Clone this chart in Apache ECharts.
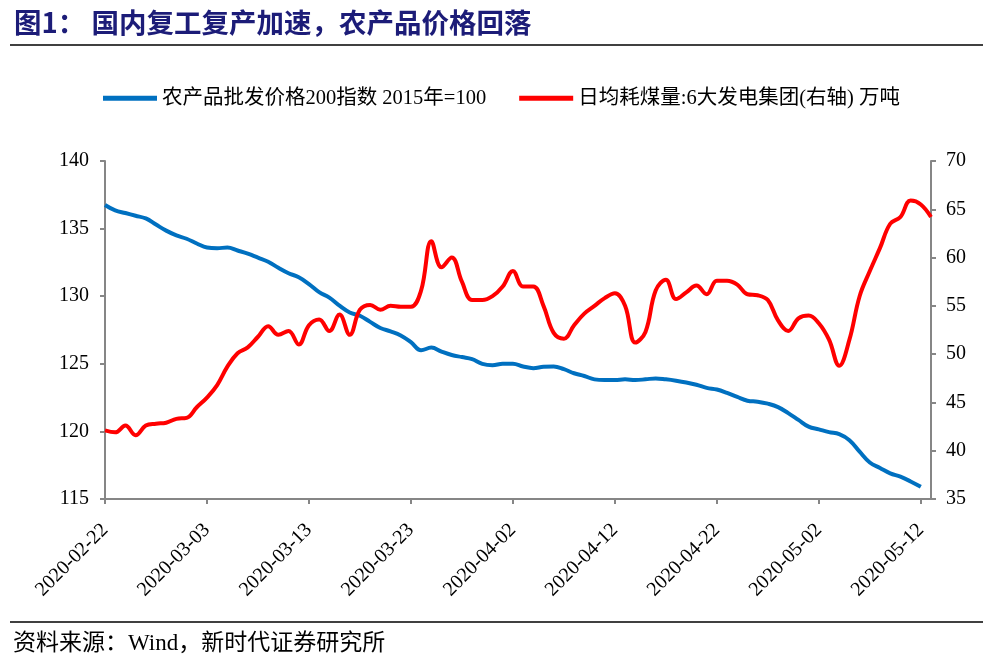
<!DOCTYPE html>
<html><head><meta charset="utf-8">
<script src="https://cdn.jsdelivr.net/npm/echarts@6/dist/echarts.min.js"></script>
<style>html,body{margin:0;padding:0;background:#fff;}#c{width:983px;height:662px;}</style>
</head><body><div id="c"></div>
<script>
var startDate = '2020-02-22';
var dayCount = 82;
var leftTicks = [115, 140, 5];
var rightTicks = [35, 70, 5];
var seriesNames = ['农产品批发价格200指数 2015年=100', '日均耗煤量:6大发电集团(右轴) 万吨'];
var agriIndex = [136.75,136.35,136.15,135.95,135.75,135.3,134.85,134.5,134.25,133.9,
133.6,133.55,133.6,133.38,133.15,132.85,132.55,132.1,131.7,131.4,
130.9,130.3,129.9,129.3,128.8,128.55,128.1,127.65,127.4,127.1,
126.6,126.0,126.2,125.9,125.65,125.5,125.35,125.0,124.9,125.0,
125.0,124.8,124.68,124.78,124.8,124.6,124.3,124.1,123.85,123.8,
123.8,123.85,123.8,123.85,123.92,123.85,123.75,123.62,123.45,123.22,
123.1,122.85,122.55,122.27,122.2,122.05,121.8,121.35,120.85,120.35,
120.15,119.95,119.8,119.35,118.5,117.7,117.3,116.9,116.65,116.3,
115.9];
var coalUse = [42.1,41.9,42.6,41.6,42.6,42.8,42.9,43.3,43.4,44.5,
45.5,46.8,48.7,50.1,50.7,51.8,52.9,52.0,52.4,51.0,
53.0,53.6,52.4,54.1,52.0,54.6,55.1,54.6,55.0,54.9,
54.9,56.6,61.7,59.0,60.0,57.5,55.6,55.6,56.0,57.0,
58.6,57.0,57.0,55.0,52.2,51.6,53.0,54.2,55.0,55.8,
56.3,55.0,51.2,52.3,56.6,57.7,55.7,56.4,57.1,56.2,
57.6,57.6,57.2,56.2,56.1,55.6,53.5,52.4,53.7,54.0,
53.2,51.5,48.8,51.5,56.0,58.6,61.0,63.5,64.2,65.9,
65.5,64.2];

var categories = [];
(function(){
  var d = new Date(startDate + 'T00:00:00Z');
  for (var i = 0; i < dayCount; i++) {
    var t = new Date(d.getTime() + i * 86400000);
    categories.push(t.toISOString().slice(0, 10));
  }
})();

var serif = '"Liberation Serif", "Times New Roman", "Noto Sans CJK SC", serif';
var chart = echarts.init(document.getElementById('c'), null, {renderer: 'canvas'});
var axisGray = '#868686';
chart.setOption({
  backgroundColor: '#fff',
  animation: false,
  graphic: [
    {type: 'text', left: 14, top: 9, style: {text: '图1： 国内复工复产加速，农产品价格回落', fill: '#1c1c78', font: 'bold 27.5px "Noto Sans CJK SC", serif'}},
    {type: 'line', shape: {x1: 10, y1: 45, x2: 983, y2: 45}, style: {stroke: '#000', lineWidth: 1.5}},
    {type: 'line', shape: {x1: 10, y1: 622, x2: 983, y2: 622}, style: {stroke: '#000', lineWidth: 1.5}},
    {type: 'text', left: 13, top: 632, style: {text: '资料来源：Wind，新时代证券研究所', fill: '#000', font: '23px "Liberation Serif", "Noto Sans CJK SC", serif'}}
  ],
  legend: {
    left: 103, top: 88, padding: 0,
    icon: 'rect', itemWidth: 54, itemHeight: 5, itemGap: 33,
    textStyle: {fontFamily: serif, fontSize: 20.5, color: '#000'},
    data: seriesNames
  },
  grid: {left: 105, right: 52, top: 161, bottom: 163, containLabel: false},
  xAxis: {
    type: 'category', data: categories, boundaryGap: false,
    axisLine: {lineStyle: {color: axisGray, width: 2}},
    axisTick: {show: true, interval: 9, length: 5, lineStyle: {color: axisGray, width: 2}},
    axisLabel: {interval: 9, rotate: 45, margin: 28, fontFamily: serif, fontSize: 20, color: '#000'},
    splitLine: {show: false}
  },
  yAxis: [
    {type: 'value', min: leftTicks[0], max: leftTicks[1], interval: leftTicks[2],
     axisLine: {show: true, lineStyle: {color: axisGray, width: 2}},
     axisTick: {show: true, length: 5, lineStyle: {color: axisGray, width: 2}},
     axisLabel: {margin: 16, fontFamily: serif, fontSize: 20, color: '#000'},
     splitLine: {show: false}},
    {type: 'value', min: rightTicks[0], max: rightTicks[1], interval: rightTicks[2], position: 'right',
     axisLine: {show: true, lineStyle: {color: axisGray, width: 2}},
     axisTick: {show: true, length: 5, lineStyle: {color: axisGray, width: 2}},
     axisLabel: {margin: 15, fontFamily: serif, fontSize: 20, color: '#000'},
     splitLine: {show: false}}
  ],
  series: [
    {name: seriesNames[0], type: 'line', yAxisIndex: 0, data: agriIndex, smooth: 0.4, showSymbol: false,
     lineStyle: {color: '#0070c0', width: 4}, itemStyle: {color: '#0070c0'}},
    {name: seriesNames[1], type: 'line', yAxisIndex: 1, data: coalUse, smooth: 0.4, showSymbol: false,
     lineStyle: {color: '#ff0000', width: 4}, itemStyle: {color: '#ff0000'}}
  ]
});
</script></body></html>
